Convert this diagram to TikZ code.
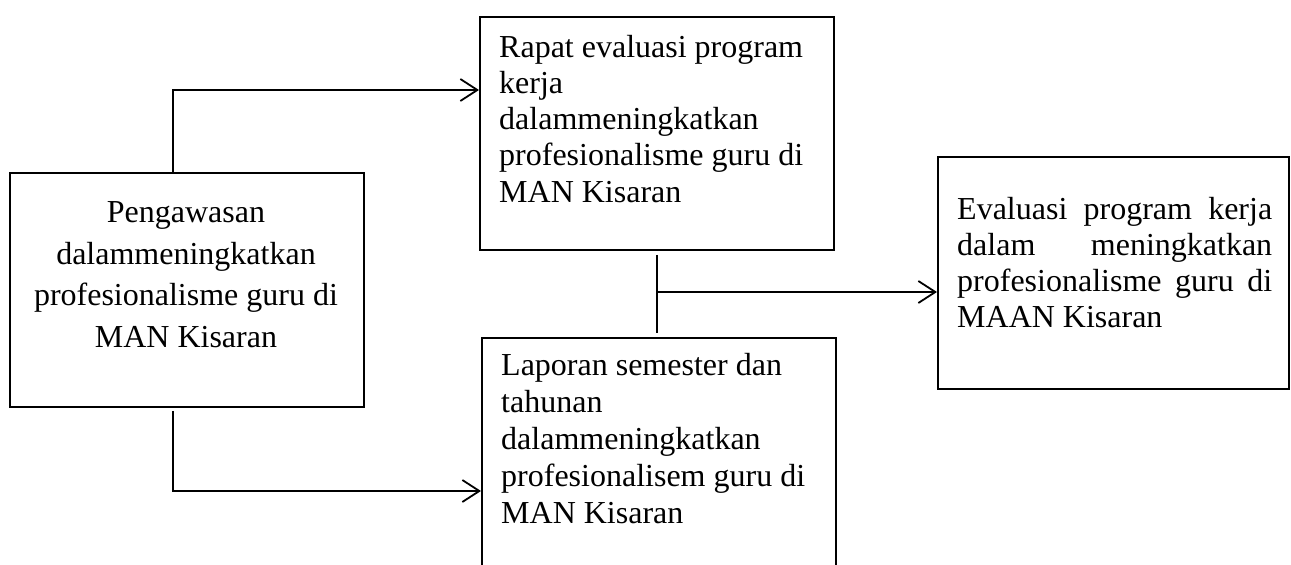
\documentclass[tikz,border=0pt]{standalone}
\usepackage{fontspec}
\setmainfont{Liberation Serif}
\usetikzlibrary{arrows.meta}
\newcommand\tstrut{\rule{0pt}{25pt}}
\begin{document}
\begin{tikzpicture}[x=1pt,y=-1pt,
  boxnode/.style={draw, line width=1.8pt, rectangle, inner sep=0pt, anchor=north west},
  txt/.style={inner sep=0pt, font=\fontsize{32}{36.2}\selectfont, align=left},
  conn/.style={line width=1.8pt},
  arr/.style={line width=1.8pt, -{Straight Barb[length=17pt,width=22pt,line width=1.8pt]}}]
\useasboundingbox (0,0) rectangle (1291,565);
\clip (0,0) rectangle (1291,565);
% boxes
\node[boxnode, minimum width=354pt, minimum height=234pt] (peng) at (9,172) {};
\node[boxnode, minimum width=354pt, minimum height=233pt] (rapat) at (479,16) {};
\node[boxnode, minimum width=354pt, minimum height=270pt] (lap) at (481,337) {};
\node[boxnode, minimum width=351pt, minimum height=232pt] (eval) at (937,156) {};
% texts
\node[txt, align=center, anchor=north, font=\fontsize{32}{41.8}\selectfont] (pengT) at (186,197)
  {\tstrut Pengawasan\\dalammeningkatkan\\profesionalisme guru di\\MAN Kisaran};
\node[txt, anchor=north west] (rapatT) at (499,32)
  {\tstrut Rapat evaluasi program\\kerja\\dalammeningkatkan\\profesionalisme guru di\\MAN Kisaran};
\node[txt, anchor=north west, font=\fontsize{32}{37}\selectfont] (lapT) at (501,350)
  {\tstrut Laporan semester dan\\tahunan\\dalammeningkatkan\\profesionalisem guru di\\MAN Kisaran};
\node[txt, anchor=north west] (evalT) at (957,194)
  {\tstrut\makebox[315pt][s]{Evaluasi program kerja}\\\makebox[315pt][s]{dalam meningkatkan}\\\makebox[315pt][s]{profesionalisme guru di}\\MAAN Kisaran};
% connectors
\coordinate (c1) at (173,90);
\coordinate (c2) at (173,491);
\coordinate (c3) at (657,292);
\draw[arr] (peng.north -| c1) |- (c1 -| rapat.west);
\draw[arr] ([yshift=-3pt]peng.south -| c2) |- (c2 -| lap.west);
\draw[conn] ([yshift=-4pt]rapat.south -| c3) -- ([yshift=4pt]lap.north -| c3);
\draw[arr] (c3) -- (c3 -| eval.west);
\end{tikzpicture}
\end{document}
